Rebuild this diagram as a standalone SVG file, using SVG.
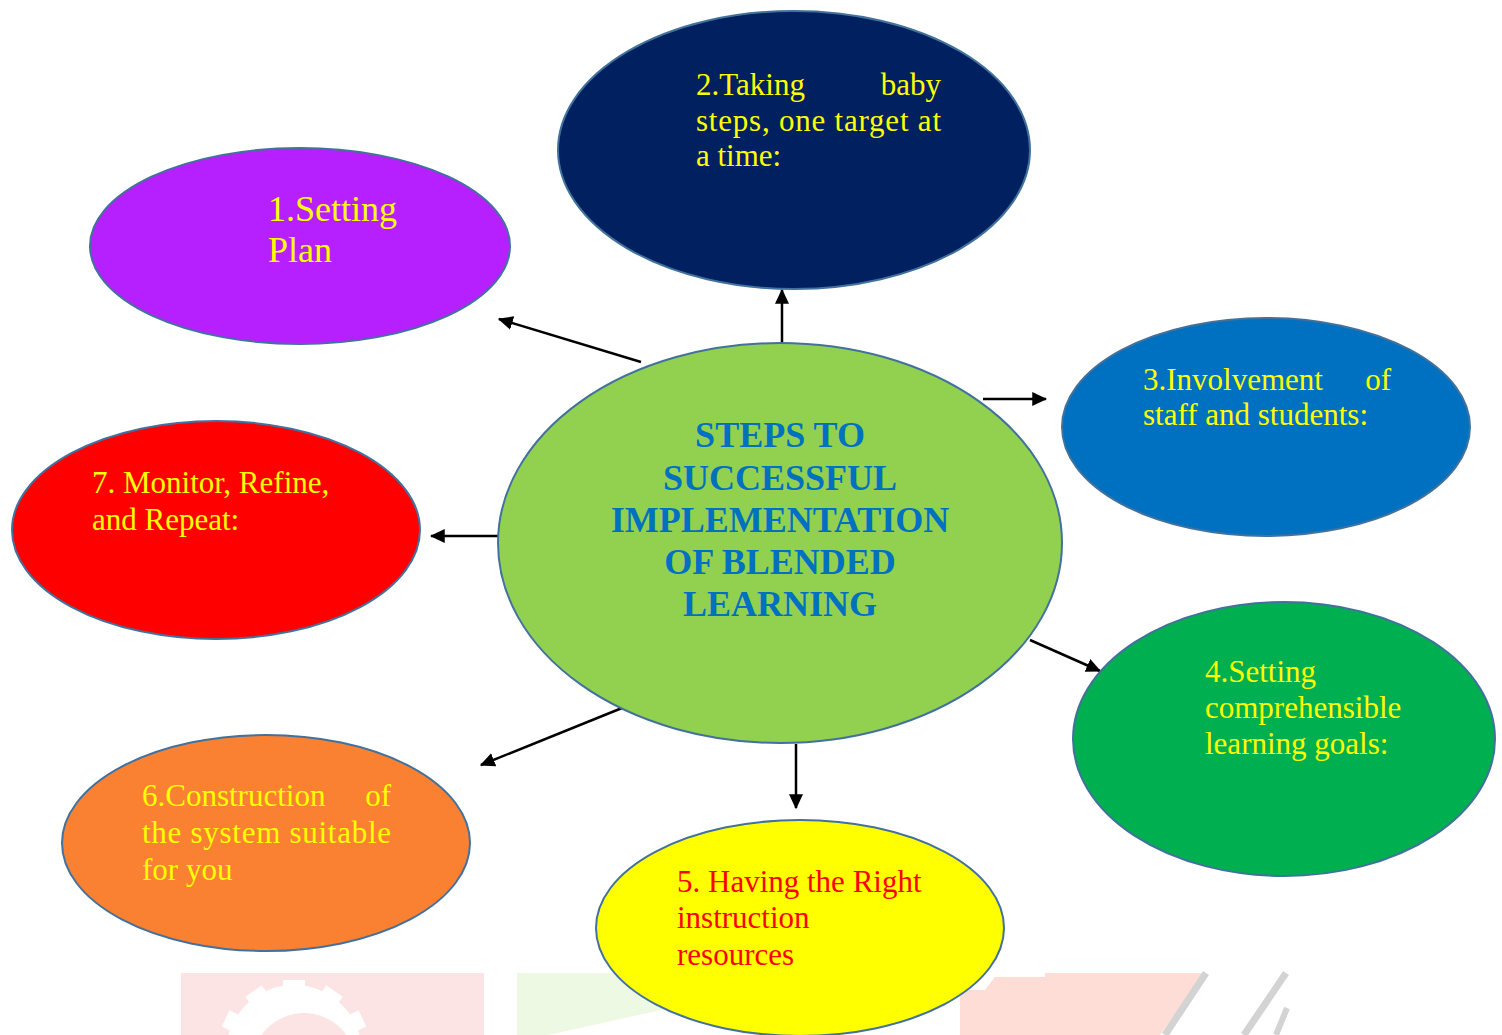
<svg xmlns="http://www.w3.org/2000/svg" width="1502" height="1035" viewBox="0 0 1502 1035">
<style>
.n{stroke:#41719C;stroke-width:2}
.t{font-family:"Liberation Serif","Times New Roman",serif;font-size:31px}
.y{fill:#FFFF00}
.r{fill:#FF0000}
.c{font-family:"Liberation Serif","Times New Roman",serif;font-size:36px;font-weight:bold;fill:#0070C0;text-anchor:middle}
.e{stroke:#000;stroke-width:2.5;fill:none;marker-end:url(#ah)}
</style>
<defs>
<marker id="ah" markerWidth="6" markerHeight="6" refX="5.5" refY="3" orient="auto" markerUnits="strokeWidth">
<path d="M0,0.2 L6,3 L0,5.8 Z" fill="#000"/>
</marker>
</defs>
<rect width="1502" height="1035" fill="#fff"/>
<g id="watermark">
<rect x="181" y="973" width="303" height="62" fill="#FDE4E4"/>
<circle cx="294" cy="1053" r="68" fill="#fff"/>
<rect x="283" y="980" width="22" height="12" fill="#fff"/>
<rect x="247" y="990" width="20" height="12" fill="#fff" transform="rotate(-35 257 996)"/>
<rect x="321" y="990" width="20" height="12" fill="#fff" transform="rotate(35 331 996)"/>
<rect x="222" y="1015" width="18" height="12" fill="#fff" transform="rotate(-65 231 1021)"/>
<rect x="348" y="1015" width="18" height="12" fill="#fff" transform="rotate(65 357 1021)"/>
<circle cx="304" cy="1065" r="52" fill="#FDE4E4"/>
<path d="M517,973 L670,973 L670,1008 L548,1035 L517,1035 Z" fill="#EEF9E4"/>
<path d="M960,1035 L960,990 L985,990 L995,977 L1045,977 L1045,973 L1205,973 L1160,1035 Z" fill="#FDDDD6"/>
<path d="M1206,973 L1165,1035" stroke="#D3D3D3" stroke-width="7"/>
<path d="M1286,973 L1244,1035" stroke="#D3D3D3" stroke-width="7"/>
<path d="M1287,1008 L1276,1035" stroke="#D3D3D3" stroke-width="6"/>
</g>
<g id="connectors">
<line class="e" x1="641" y1="362" x2="499" y2="319"/>
<line class="e" x1="782" y1="343" x2="782" y2="290"/>
<line class="e" x1="983" y1="399" x2="1046" y2="399"/>
<line class="e" x1="1030" y1="640" x2="1100" y2="671"/>
<line class="e" x1="796" y1="744" x2="796" y2="808"/>
<line class="e" x1="622" y1="708" x2="481" y2="765"/>
<line class="e" x1="498" y1="536" x2="431" y2="536"/>
</g>
<g id="node1">
<ellipse class="n" cx="300" cy="246" rx="210" ry="98" fill="#B620FE"/>
<text class="t y" style="font-size:36px" x="268" y="221">1.Setting</text>
<text class="t y" style="font-size:36px" x="268" y="262">Plan</text>
</g>
<g id="node2">
<ellipse class="n" cx="794" cy="150" rx="236" ry="139" fill="#002060"/>
<text class="t y" x="696" y="95">2.Taking</text>
<text class="t y" x="941" y="95" text-anchor="end">baby</text>
<text class="t y" x="696" y="131" textLength="245" lengthAdjust="spacing">steps, one target at</text>
<text class="t y" x="696" y="166">a time:</text>
</g>
<g id="node3">
<ellipse class="n" cx="1266" cy="427" rx="204" ry="109" fill="#0070C0"/>
<text class="t y" x="1143" y="390">3.Involvement</text>
<text class="t y" x="1391" y="390" text-anchor="end">of</text>
<text class="t y" x="1143" y="425">staff and students:</text>
</g>
<g id="node4">
<ellipse class="n" cx="1284" cy="739" rx="211" ry="137" fill="#00B050"/>
<text class="t y" x="1205" y="682">4.Setting</text>
<text class="t y" x="1205" y="718">comprehensible</text>
<text class="t y" x="1205" y="754">learning goals:</text>
</g>
<g id="node5">
<ellipse class="n" cx="800" cy="928" rx="204" ry="108" fill="#FFFF00"/>
<text class="t r" x="677" y="892">5. Having the Right</text>
<text class="t r" x="677" y="928">instruction</text>
<text class="t r" x="677" y="965">resources</text>
</g>
<g id="node6">
<ellipse class="n" cx="266" cy="843" rx="204" ry="108" fill="#FB8132"/>
<text class="t y" x="142" y="806">6.Construction</text>
<text class="t y" x="391" y="806" text-anchor="end">of</text>
<text class="t y" x="142" y="843" textLength="249" lengthAdjust="spacing">the system suitable</text>
<text class="t y" x="142" y="880">for you</text>
</g>
<g id="node7">
<ellipse class="n" cx="216" cy="530" rx="204" ry="109" fill="#FF0000"/>
<text class="t y" x="92" y="493">7. Monitor, Refine,</text>
<text class="t y" x="92" y="530">and Repeat:</text>
</g>
<g id="center">
<ellipse class="n" cx="780" cy="543" rx="282" ry="200" fill="#92D050"/>
<text class="c" x="780" y="447">STEPS TO</text>
<text class="c" x="780" y="490">SUCCESSFUL</text>
<text class="c" x="780" y="532">IMPLEMENTATION</text>
<text class="c" x="780" y="574">OF BLENDED</text>
<text class="c" x="780" y="616">LEARNING</text>
</g>
</svg>
